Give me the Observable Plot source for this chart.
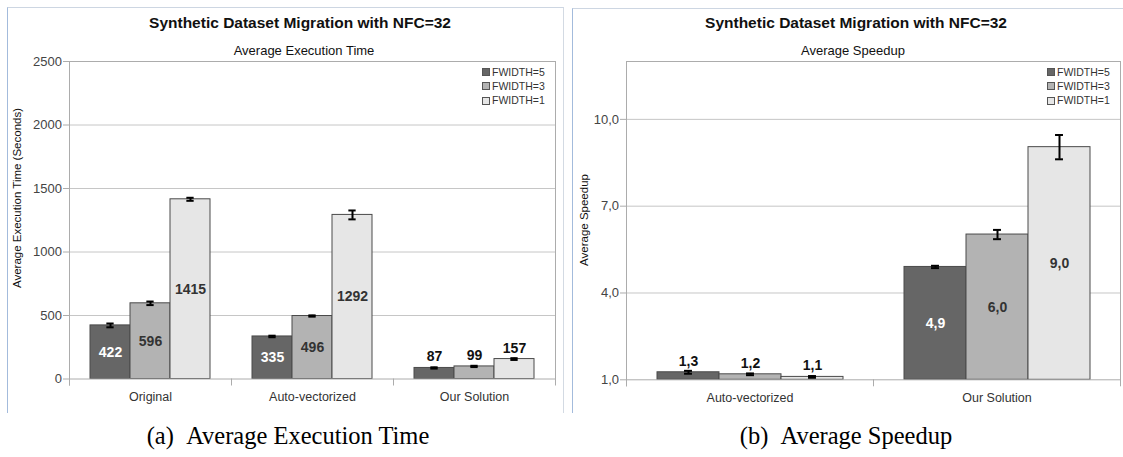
<!DOCTYPE html>
<html><head><meta charset="utf-8">
<script src="https://cdn.jsdelivr.net/npm/d3@7"></script>
<script src="https://cdn.jsdelivr.net/npm/@observablehq/plot@0.6"></script>
<style>
body{margin:0;background:#fff}
#root{position:relative;width:1123px;height:457px;overflow:hidden;font-family:"Liberation Sans",Arial,sans-serif;color:#000}
.abs{position:absolute;white-space:nowrap;line-height:1}
.c{transform:translate(-50%,-50%)}
.rot{transform:translate(-50%,-50%) rotate(-90deg)}
svg{position:absolute;top:0}
</style></head><body><div id="root"></div>
<script>
// ---- data ----
const series = ["FWIDTH=5", "FWIDTH=3", "FWIDTH=1"];
const seriesColors = ["#666666", "#b3b3b3", "#e6e6e6"];

const timeCategories = ["Original", "Auto-vectorized", "Our Solution"];
const timeW5 = [422, 335, 87];
const timeW3 = [596, 496, 99];
const timeW1 = [1415, 1292, 157];
const timeErrW5 = [15, 6, 5];
const timeErrW3 = [14, 5, 5];
const timeErrW1 = [12, 35, 7];
const timeTicks = [0, 500, 1000, 1500, 2000, 2500];

const speedCategories = ["Auto-vectorized", "Our Solution"];
const speedW5 = [1.26, 4.9];
const speedW3 = [1.19, 6.02];
const speedW1 = [1.10, 9.04];
const speedErrW5 = [0.05, 0.04];
const speedErrW3 = [0.03, 0.16];
const speedErrW1 = [0.03, 0.42];
const speedTicks = [1, 4, 7, 10];
const speedTickLabels = ["1,0", "4,0", "7,0", "10,0"];

// ---- helpers ----
const root = document.getElementById("root");
function el(html, cls, style) {
  const d = document.createElement("div");
  d.className = "abs " + (cls || "");
  d.innerHTML = html;
  Object.assign(d.style, style);
  root.appendChild(d);
  return d;
}
function buildRows(cats, vals, errs, fmt) {
  return cats.flatMap((c, i) => series.map((s, j) => ({
    cat: c, ser: s, v: vals[j][i], err: errs[j][i], label: fmt(vals[j][i]), dark: j === 0
  })));
}

function chart(o) {
  const {data, cats, yDomain, ticks, tickFormat, width, height, mL, mR, mT, mB} = o;
  const plotH = height - mT - mB;
  const base = yDomain[0];
  const band = (width - mL - mR) / cats.length;
  const step = band / (series.length + 2 * 0.49);
  const capInset = (step - 8) / 2;
  const inside = d => (d.v - base) > 0.1 * (yDomain[1] - yDomain[0]);
  const line = "#acacac";
  return Plot.plot({
    width, height, marginLeft: mL, marginRight: mR, marginTop: mT, marginBottom: mB,
    style: {fontFamily: "Liberation Sans, Arial, sans-serif", background: "transparent", overflow: "visible"},
    fx: {domain: cats, padding: 0},
    x: {domain: series, paddingInner: 0, paddingOuter: 0.49, axis: null},
    y: {domain: yDomain},
    color: {domain: series, range: seriesColors},
    marks: [
      Plot.ruleY(ticks.filter(t => t > yDomain[0] && t < yDomain[1]), {stroke: "#c6c6c6"}),
      Plot.frame({anchor: "top", stroke: line}),
      Plot.frame({anchor: "left", stroke: line, facetAnchor: "left", insetBottom: -6}),
      Plot.frame({anchor: "right", stroke: line, facetAnchor: "right", insetBottom: -6}),
      Plot.frame({anchor: "left", stroke: line, insetTop: plotH, insetBottom: -6}),
      Plot.axisY({ticks, tickFormat, tickSize: 6, tickPadding: 1.5, stroke: line, fill: "#444", fontSize: 13, label: null}),
      Plot.axisFx({anchor: "bottom", tickSize: 0, tickPadding: 13, fill: "#333", fontSize: 12.5, label: null}),
      Plot.barY(data, {fx: "cat", x: "ser", y1: base, y2: "v", fill: "ser", stroke: "#4a4a4a", strokeWidth: 1}),
      Plot.ruleY([base], {stroke: line}),
      Plot.ruleX(data, {fx: "cat", x: "ser", y1: d => d.v - d.err, y2: d => d.v + d.err, stroke: "#000", strokeWidth: 2}),
      Plot.tickY(data, {fx: "cat", x: "ser", y: d => d.v - d.err, stroke: "#000", strokeWidth: 2, insetLeft: capInset, insetRight: capInset}),
      Plot.tickY(data, {fx: "cat", x: "ser", y: d => d.v + d.err, stroke: "#000", strokeWidth: 2, insetLeft: capInset, insetRight: capInset}),
      Plot.text(data.filter(d => inside(d) && d.dark), {fx: "cat", x: "ser", y: d => (d.v + base) / 2, text: "label", fill: "#fff", fontWeight: "bold", fontSize: 14}),
      Plot.text(data.filter(d => inside(d) && !d.dark), {fx: "cat", x: "ser", y: d => (d.v + base) / 2, text: "label", fill: "#333", fontWeight: "bold", fontSize: 14}),
      Plot.text(data.filter(d => !inside(d)), {fx: "cat", x: "ser", y: "v", dy: -11, text: "label", fill: "#111", fontWeight: "bold", fontSize: 14})
    ]
  });
}

// ---- panel borders ----
el("", "", {left: "7px", top: "7px", width: "555px", height: "405px", borderTop: "1px solid #cdd6e2", borderRight: "1px solid #d3dae3", borderLeft: "1px solid #a3bbdc"});
el("", "", {left: "572px", top: "8px", width: "560px", height: "404px", borderTop: "1px solid #cdd6e2", borderLeft: "1px solid #a3bbdc"});

// ---- charts ----
const timeRows = buildRows(timeCategories, [timeW5, timeW3, timeW1], [timeErrW5, timeErrW3, timeErrW1], d3.format("d"));
const left = chart({data: timeRows, cats: timeCategories, yDomain: [0, 2500], ticks: timeTicks, tickFormat: d3.format("d"),
  width: 563, height: 412, mL: 69, mR: 8, mT: 61, mB: 33.5});
left.style.left = "0px";
root.appendChild(left);

const speedRows = buildRows(speedCategories, [speedW5, speedW3, speedW1], [speedErrW5, speedErrW3, speedErrW1], v => v.toFixed(1).replace(".", ","));
const right = chart({data: speedRows, cats: speedCategories, yDomain: [1, 12], ticks: speedTicks,
  tickFormat: t => speedTickLabels[speedTicks.indexOf(t)],
  width: 560, height: 412, mL: 63, mR: 3, mT: 61, mB: 32.7});
right.style.left = "563px";
root.appendChild(right);

// ---- titles ----
const titleStyle = {fontWeight: "bold", fontSize: "15.5px", color: "#111"};
el("Synthetic Dataset Migration with NFC=32", "c", {left: "300px", top: "23px", ...titleStyle});
el("Synthetic Dataset Migration with NFC=32", "c", {left: "856px", top: "23px", ...titleStyle});
el("Average Execution Time", "c", {left: "304px", top: "50px", fontSize: "13px", color: "#111"});
el("Average Speedup", "c", {left: "853px", top: "50px", fontSize: "13px", color: "#111"});
el("Average Execution Time (Seconds)", "rot", {left: "18px", top: "198px", fontSize: "11.5px", color: "#111"});
el("Average Speedup", "rot", {left: "585px", top: "220px", fontSize: "11.5px", color: "#111"});

// ---- legends ----
function legend(x, y0) {
  series.forEach((s, i) => {
    const y = y0 + i * 14.3;
    el("", "", {left: x + "px", top: (y - 4) + "px", width: "6px", height: "6px", background: seriesColors[i], border: "1px solid #555"});
    el(s, "", {left: (x + 10) + "px", top: (y - 5.5) + "px", fontSize: "10.5px", color: "#333"});
  });
}
legend(482, 72);
legend(1047, 72);

// ---- captions ----
const capStyle = {fontFamily: "'Liberation Serif','Times New Roman',serif", fontSize: "24.5px", color: "#000"};
el("(a)&nbsp;&nbsp;Average Execution Time", "c", {left: "288px", top: "436px", ...capStyle});
el("(b)&nbsp;&nbsp;Average Speedup", "c", {left: "846px", top: "436px", ...capStyle});
</script></body></html>
